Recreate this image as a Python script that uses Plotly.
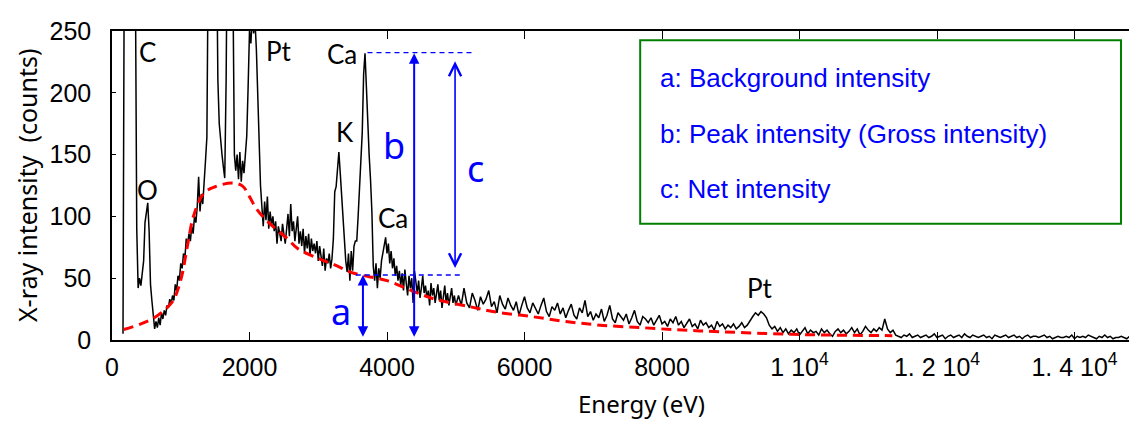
import plotly.graph_objects as go

# ---------------- data ----------------
# channel energies (eV): 20 eV channels up to 5 keV, 40 eV above
energy = list(range(160, 5001, 20)) + list(range(5040, 14881, 40))

counts_low = [
    5, 400, 800, 1000, 1100, 1050, 900, 700, 500, 300,        # 160-340
    90, 42, 50, 44, 55, 64, 95, 104, 111, 88,                 # 360-540
    45, 32, 17, 9, 15, 10, 18, 12, 22, 17,                    # 560-740
    24, 20, 28, 26, 33, 29, 36, 32, 45, 40,                   # 760-940
    52, 48, 62, 58, 70, 66, 82, 78, 86, 80,                   # 960-1140
    92, 86, 100, 95, 108, 132, 104, 118, 110, 125,            # 1160-1340
    145, 164, 280, 520, 700, 760, 640, 450, 300, 210,         # 1360-1540
    175, 158, 150, 140, 131, 210, 380, 560, 650, 500,         # 1560-1740
    280, 150, 137, 150, 130, 152, 128, 145, 135, 148,         # 1760-1940
    165, 205, 250, 240, 262, 248, 258, 235, 195, 150,         # 1960-2140
    125, 108, 92, 112, 97, 116, 90, 104, 93, 100,             # 2160-2340
    88, 96, 78, 92, 84, 80, 94, 86, 78, 90,                   # 2360-2540
    102, 84, 110, 88, 96, 80, 92, 100, 78, 88,                # 2560-2740
    76, 90, 70, 84, 74, 86, 68, 82, 72, 78,                   # 2760-2940
    70, 80, 64, 76, 68, 60, 74, 56, 66, 62,                   # 2960-3140
    70, 58, 66, 82, 120, 124, 138, 152, 135, 115,             # 3160-3340
    100, 80, 64, 55, 70, 48, 72, 56, 76, 80,                  # 3360-3540
    80, 100, 125, 150, 168, 215, 232, 205, 172, 150,          # 3560-3740
    130, 104, 60, 48, 62, 42, 58, 50, 64, 70,                 # 3760-3940
    76, 83, 70, 78, 62, 72, 58, 66, 52, 60,                   # 3960-4140
    48, 56, 44, 54, 40, 57, 46, 36, 52, 42,                   # 4160-4340
    50, 30, 56, 44, 38, 48, 34, 42, 52, 38,                   # 4360-4540
    44, 34, 40, 28, 46, 36, 42, 30, 38, 45,                   # 4560-4740
    32, 40, 26, 36, 44, 30, 38, 28, 35, 42,                   # 4760-4940
    30, 36, 28,                                               # 4960-5000
]
counts_high = [
    36, 28, 42, 30, 26, 38, 32, 24, 35, 29,     # 5040-5400
    33, 40, 27, 31, 22, 36, 29, 25, 34, 28,     # 5440-5800
    24, 31, 20, 28, 35, 26, 22, 30, 25, 21,     # 5840-6200
    28, 34, 23, 19, 27, 24, 30, 21, 26, 18,     # 6240-6600
    24, 29, 20, 17, 26, 22, 32, 19, 23, 16,     # 6640-7000
    21, 18, 25, 15, 20, 28, 17, 14, 22, 19,     # 7040-7400
    16, 21, 13, 18, 24, 15, 12, 19, 17, 14,     # 7440-7800
    18, 12, 16, 20, 13, 15, 11, 17, 14, 19,     # 7840-8200
    12, 15, 10, 14, 17, 11, 13, 9, 16, 12,      # 8240-8600
    14, 10, 12, 8, 15, 11, 13, 9, 12, 10,       # 8640-9000
    13, 9, 11, 14, 10, 12, 16, 19, 22, 20,      # 9040-9400
    23, 21, 18, 12, 9, 11, 7, 10, 6, 9,         # 9440-9800
    5, 8, 6, 9, 4, 7, 10, 5, 8, 6,              # 9840-10200
    7, 4, 9, 6, 8, 5, 3, 7, 9, 6,               # 10240-10600
    8, 5, 7, 10, 6, 9, 4, 7, 11, 8,             # 10640-11000
    6, 9, 7, 10, 8, 17, 9, 6, 8, 4,             # 11040-11400
    3, 2, 4, 3, 5, 2, 3, 4, 2, 3,               # 11440-11800
    4, 2, 3, 5, 2, 3, 4, 1, 3, 4,               # 11840-12200
    2, 3, 4, 2, 5, 3, 2, 4, 3, 2,               # 12240-12600
    3, 4, 2, 3, 1, 4, 3, 2, 3, 4,               # 12640-13000
    2, 3, 4, 2, 3, 1, 3, 4, 2, 3,               # 13040-13400
    3, 2, 3, 4, 2, 3, 1, 2, 3, 2,               # 13440-13800
    2, 3, 2, 4, 1, 3, 2, 3, 2, 4,               # 13840-14200
    3, 2, 1, 3, 2, 4, 2, 3, 1, 2,               # 14240-14600
    2, 3, 2, 1, 3, 2, 2,                        # 14640-14880
]
counts = counts_low + counts_high

# background (continuum) estimate
bg_energy = [170, 600, 880, 950, 1020, 1100, 1190, 1340, 1500, 1750, 1900, 2000,
             2090, 2260, 2550, 2700, 3000, 3230, 3520, 4000, 4400, 4700, 5200,
             5600, 6100, 6600, 7100, 7700, 8300, 8850, 9500, 10100, 10700, 11350]
bg_counts = [8.5, 17.5, 31, 39.5, 53, 77, 101, 119, 124, 127, 124.5, 116,
             107, 96, 82, 74, 66, 61, 54, 48, 39, 33, 27,
             22.5, 19, 15, 12, 10, 8, 6.7, 5.3, 4.3, 3.8, 3.5]

# element labels
peak_labels = ["C", "O", "Pt", "Ca", "K", "Ca", "Pt"]
peak_label_e = [513, 520, 2433, 3345, 3382, 4091, 9430]
peak_label_c = [233, 121, 233.5, 231, 168, 99, 42]

# intensity definitions
bkg_level = 52.6
peak_level = 232.5
arrow_names = ["a", "b", "c"]
arrow_e = [3650, 4395, 4990]
arrow_from = [1.5, 1.5, 57]
arrow_to = [bkg_level, peak_level - 0.5, 225.5]
arrow_label_e = [3334, 4096, 5283]
arrow_label_c = [22.7, 157, 139]
level_lines_e = [(3716, 5243), (3546, 5116)]
level_lines_c = [peak_level, bkg_level]

legend_lines = ["a: Background intensity",
                "b: Peak intensity (Gross intensity)",
                "c: Net intensity"]

x_tickvals = [0, 2000, 4000, 6000, 8000, 10000, 12000, 14000]
x_ticktext = ["0", "2000", "4000", "6000", "8000",
              "1 10<sup>4</sup>", "1. 2 10<sup>4</sup>", "1. 4 10<sup>4</sup>"]
y_tickvals = [0, 50, 100, 150, 200, 250]

# ---------------- figure ----------------
BLUE = "#0000ff"
TICKFONT = dict(family="Liberation Sans Narrow, Liberation Sans, Arial", size=25, color="black")
LABFONT = dict(family="Lato, Noto Sans, sans-serif", size=26, color="black")
TITLEFONT = dict(family="Noto Sans, sans-serif", size=24, color="black")

fig = go.Figure()
fig.add_trace(go.Scatter(x=energy, y=counts, mode="lines",
                         line=dict(color="black", width=1.5), hoverinfo="skip"))
fig.add_trace(go.Scatter(x=bg_energy, y=bg_counts, mode="lines",
                         line=dict(color="#ff0000", width=3, dash="10px,6px", shape="spline"),
                         hoverinfo="skip"))

annotations = []
for t, e, c in zip(peak_labels, peak_label_e, peak_label_c):
    annotations.append(dict(x=e, y=c, xref="x", yref="y", text=t, showarrow=False,
                            xanchor="center", yanchor="middle", font=LABFONT))

for name, e, c0, c1, le, lc in zip(arrow_names, arrow_e, arrow_from, arrow_to,
                                   arrow_label_e, arrow_label_c):
    head = 5 if name == "c" else 2
    aw = 1.6 if name == "c" else 2
    asz = 1.5 if name == "c" else 1.05
    annotations.append(dict(x=e, y=c1, ax=e, ay=c0, xref="x", yref="y",
                            axref="x", ayref="y", text="", showarrow=True,
                            arrowhead=head, startarrowhead=head, arrowside="end+start",
                            arrowwidth=aw, arrowsize=asz, startarrowsize=asz,
                            arrowcolor=BLUE))
    annotations.append(dict(x=le, y=lc, xref="x", yref="y", text=name, showarrow=False,
                            xanchor="center", yanchor="middle",
                            font=dict(family="Noto Sans, sans-serif", size=36, color=BLUE)))

legend_y = [0.8493, 0.6655, 0.4878]
for txt, yy in zip(legend_lines, legend_y):
    annotations.append(dict(x=0.5328, y=yy, xref="paper", yref="paper", text=txt,
                            showarrow=False, xanchor="left", yanchor="middle",
                            font=dict(family="Liberation Sans, Arial", size=26, color=BLUE)))

annotations.append(dict(x=-0.0836, y=0.5024, xref="paper", yref="paper",
                        text="X-ray intensity  (counts)", textangle=-90, showarrow=False,
                        xanchor="center", yanchor="middle",
                        font=dict(family="Noto Sans, sans-serif", size=25, color="black")))
annotations.append(dict(x=0.5162, y=-0.204, xref="paper", yref="paper",
                        text="Energy (eV)", showarrow=False,
                        xanchor="center", yanchor="middle", font=TITLEFONT))

shapes = []
for (e0, e1), c in zip(level_lines_e, level_lines_c):
    shapes.append(dict(type="line", xref="x", yref="y", x0=e0, x1=e1, y0=c, y1=c,
                       line=dict(color=BLUE, width=1.3, dash="5px,4px")))
shapes.append(dict(type="rect", xref="paper", yref="paper", x0=0.5153, x1=0.9844,
                   y0=0.376, y1=0.9702, line=dict(color="#008000", width=2),
                   fillcolor="rgba(0,0,0,0)"))

# the page places the figure at an 8 px body offset; size/margins compensate
fig.update_layout(
    width=1129, height=413,
    margin=dict(l=104, r=0, t=23, b=81, pad=0),
    paper_bgcolor="white", plot_bgcolor="white",
    showlegend=False,
    annotations=annotations, shapes=shapes,
    xaxis=dict(range=[0, 14909], tickvals=x_tickvals, ticktext=x_ticktext,
               ticks="inside", ticklen=8, tickwidth=1.3, tickcolor="black",
               showline=True, linecolor="black", linewidth=1.5, mirror="ticks",
               showgrid=False, zeroline=False, tickfont=TICKFONT,
               ticklabelstandoff=4),
    yaxis=dict(range=[0, 250], tickvals=y_tickvals,
               ticks="inside", ticklen=4, tickwidth=1.3, tickcolor="black",
               showline=True, linecolor="black", linewidth=1.5, mirror=False,
               showgrid=False, zeroline=False, tickfont=TICKFONT,
               ticklabelstandoff=14),
)

fig.write_html("out.html")
